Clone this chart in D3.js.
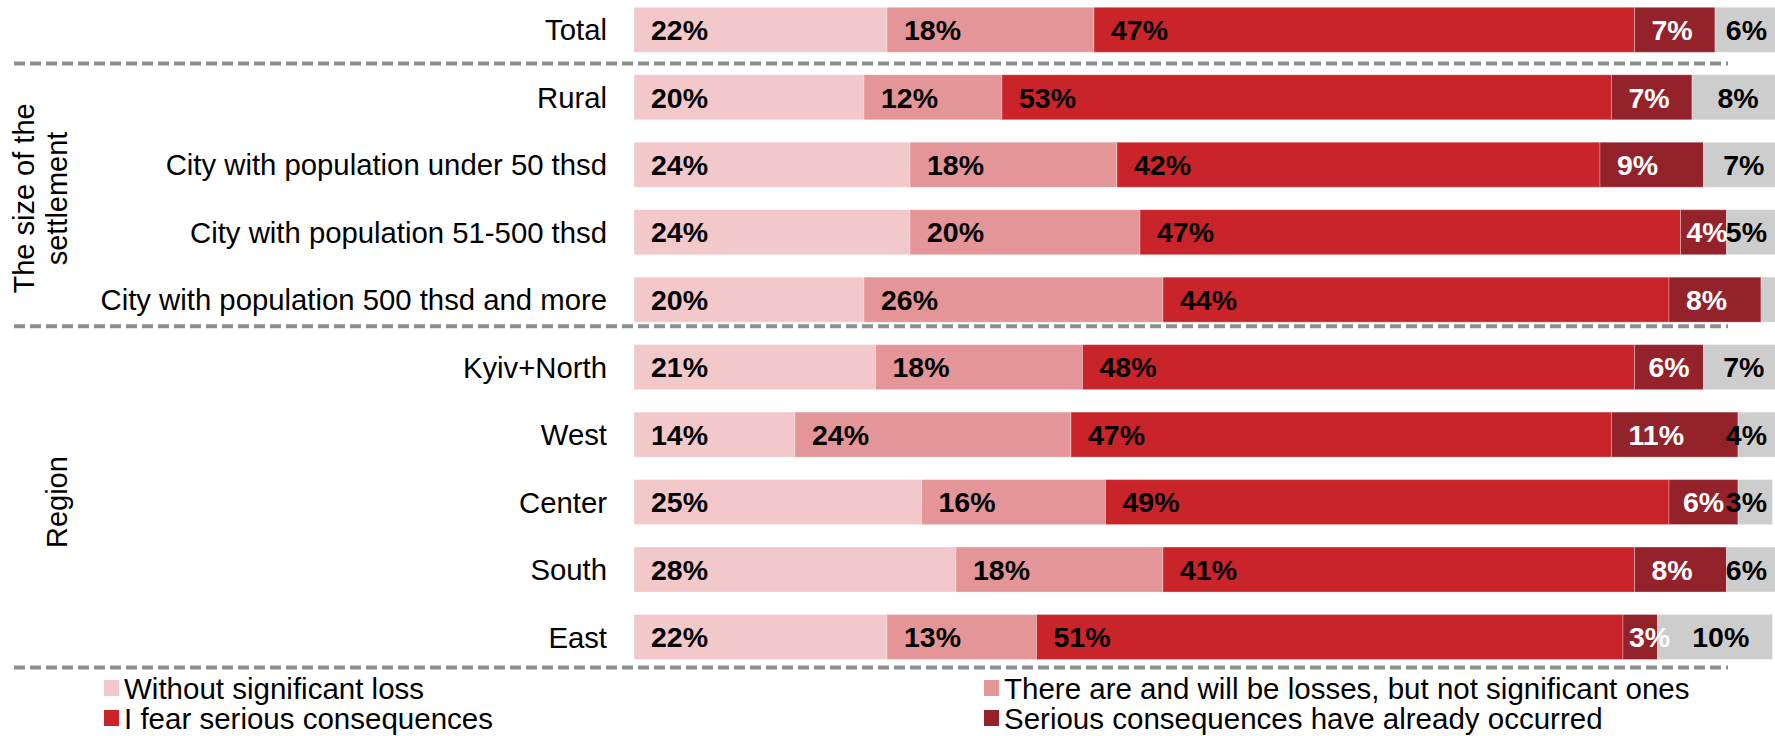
<!DOCTYPE html>
<html>
<head>
<meta charset="utf-8">
<script src="https://cdn.jsdelivr.net/npm/d3@7"></script>
<style>
  html, body { margin: 0; padding: 0; background: #ffffff; }
  svg { display: block; font-family: "Liberation Sans", Arial, sans-serif; }
</style>
</head>
<body>
<svg id="chart" width="1775" height="736"></svg>
<script>
// ---------------- DATA ----------------
const categories = [
  "Total",
  "Rural",
  "City with population under 50 thsd",
  "City with population 51-500 thsd",
  "City with population 500 thsd and more",
  "Kyiv+North",
  "West",
  "Center",
  "South",
  "East"
];
const seriesNames = [
  "Without significant loss",
  "There are and will be losses, but not significant ones",
  "I fear serious consequences",
  "Serious consequences have already occurred",
  "Hard to say"
];
const withoutLoss     = [22, 20, 24, 24, 20, 21, 14, 25, 28, 22];
const minorLosses     = [18, 12, 18, 20, 26, 18, 24, 16, 18, 13];
const fearSerious     = [47, 53, 42, 47, 44, 48, 47, 49, 41, 51];
const alreadyOccurred = [ 7,  7,  9,  4,  8,  6, 11,  6,  8,  3];
const hardToSay       = [ 6,  8,  7,  5,  2,  7,  4,  3,  6, 10];
const seriesValues = [withoutLoss, minorLosses, fearSerious, alreadyOccurred, hardToSay];
const legendSeries = [0, 1, 2, 3];          // 5th entry lies outside the visible area
const groupLabels = [
  { lines: ["The size of the", "settlement"], from: "Rural", to: "City with population 500 thsd and more" },
  { lines: ["Region"], from: "Kyiv+North", to: "East" }
];
const separatorsAfter = ["Total", "City with population 500 thsd and more", "East"];

// ---------------- STYLE / LAYOUT ----------------
const colors = ["#f2c8ca", "#e49597", "#c9242a", "#94222a", "#cccdcc"];
const labelColors = ["#000", "#000", "#000", "#fff", "#000"];
const svg = d3.select("#chart");

const x = d3.scaleLinear().domain([0, 100]).range([634, 1784]);
const y = d3.scalePoint().domain(categories).range([29.8, 637]);
const barH = 45;

// stack
const rows = categories.map((c, i) => {
  const r = { cat: c };
  seriesValues.forEach((s, k) => r["s" + k] = s[i]);
  return r;
});
const keys = seriesValues.map((s, k) => "s" + k);
const stacked = d3.stack().keys(keys)(rows);

// separators (dashed lines): gap below the bar of the listed category
const sepGaps = [(y.step() - barH) / 2, 4, 8];
svg.append("g").selectAll("line")
  .data(separatorsAfter)
  .join("line")
  .attr("x1", 14).attr("x2", 1728)
  .attr("y1", (d, i) => y(d) + barH / 2 + sepGaps[i])
  .attr("y2", (d, i) => y(d) + barH / 2 + sepGaps[i])
  .attr("stroke", "#8b908f")
  .attr("stroke-width", 4)
  .attr("stroke-dasharray", "11,5");

// bars
const gSeries = svg.append("g").selectAll("g")
  .data(stacked)
  .join("g")
  .attr("fill", (d, i) => colors[i]);
gSeries.selectAll("rect")
  .data(d => d.map(p => ({ p, cat: p.data.cat })))
  .join("rect")
  .attr("x", d => x(d.p[0]))
  .attr("width", d => x(d.p[1]) - x(d.p[0]))
  .attr("y", d => y(d.cat) - barH / 2)
  .attr("height", barH)
  .attr("stroke", "#ffffff")
  .attr("stroke-opacity", 0.3)
  .attr("stroke-width", 1);

// value labels
const labelLayer = svg.append("g")
  .attr("font-weight", "bold")
  .attr("font-size", 28.5);
stacked.forEach((ser, k) => {
  ser.forEach((p, i) => {
    const v = seriesValues[k][i];
    if (v < 3) return;
    const t = labelLayer.append("text")
      .attr("y", y(categories[i]))
      .attr("dy", "0.36em")
      .attr("fill", labelColors[k])
      .text(v + "%");
    const tw = t.node().getComputedTextLength();
    const x0 = x(p[0]), x1 = x(p[1]);
    let lx;
    if (k <= 2) {
      lx = x0 + 17;
    } else if (k === 3) {
      lx = x0 + Math.min(17, Math.max(6, (x1 - x0 - tw) / 2));
    } else {
      lx = (x0 + x(100)) / 2 - tw / 2;
      lx = Math.min(lx, 1767 - tw);
    }
    t.attr("x", lx);
  });
});

// category labels
svg.append("g")
  .attr("font-size", 29.3)
  .attr("text-anchor", "end")
  .selectAll("text")
  .data(categories)
  .join("text")
  .attr("x", 607)
  .attr("y", d => y(d))
  .attr("dy", "0.36em")
  .attr("fill", "#000")
  .text(d => d);

// group labels (rotated)
groupLabels.forEach(g => {
  const cy = (y(g.from) + y(g.to)) / 2;
  const n = g.lines.length;
  const lineGap = 33;
  const lastBaseline = 67;
  const t = svg.append("text")
    .attr("font-size", 29)
    .attr("text-anchor", "middle")
    .attr("transform", `translate(0,${cy}) rotate(-90)`);
  g.lines.forEach((ln, j) => {
    t.append("tspan")
      .attr("x", 0)
      .attr("y", lastBaseline - (n - 1 - j) * lineGap)
      .text(ln);
  });
});

// legend
const legend = svg.append("g").attr("font-size", 29.5);
const legCols = [104, 984];
const legRows = [688, 718];
legendSeries.forEach((k, idx) => {
  const cx = legCols[idx % 2], cy = legRows[Math.floor(idx / 2)];
  legend.append("rect")
    .attr("x", cx).attr("y", cy - 8)
    .attr("width", 15).attr("height", 16)
    .attr("fill", colors[k]);
  legend.append("text")
    .attr("x", cx + 20).attr("y", cy)
    .attr("dy", "0.36em")
    .attr("fill", "#000")
    .text(seriesNames[k]);
});
</script>
</body>
</html>
